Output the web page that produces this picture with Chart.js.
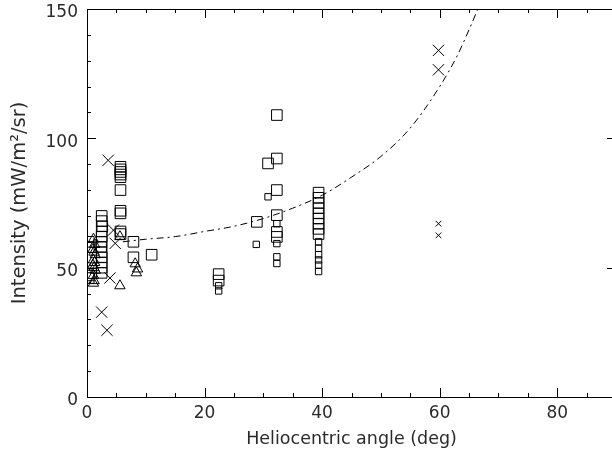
<!DOCTYPE html>
<html>
<head>
<meta charset="utf-8">
<script src="https://cdn.jsdelivr.net/npm/chart.js@4.4.1/dist/chart.umd.min.js"></script>
<style>
  html, body { margin: 0; padding: 0; background: #fff; overflow: hidden; }
</style>
</head>
<body>
<canvas id="helioChart" width="625" height="457"></canvas>
<script>
// tick labels
const angleTicks = [0, 20, 40, 60, 80];
const intensityTicks = [0, 50, 100, 150];

// [angle (deg), intensity]
const squaresLarge = [
  [0.3, 60], [0.3, 58], [0.3, 47], [0.3, 46],
  [2.5, 70], [2.5, 68], [2.6, 66], [2.5, 64], [2.5, 62], [2.5, 60], [2.4, 58],
  [2.5, 56], [2.5, 54], [2.5, 52], [2.5, 50], [2.5, 48],
  [5.7, 89], [5.7, 88], [5.7, 87], [5.7, 86], [5.7, 85], [5.7, 80],
  [5.7, 72], [5.7, 71], [5.7, 64], [5.7, 63],
  [7.9, 60], [7.9, 54], [11, 55],
  [22.4, 47.5], [22.4, 45],
  [28.9, 67.7], [30.8, 90.3],
  [32.3, 109], [32.3, 92.2], [32.3, 80], [32.3, 70.3], [32.3, 63.8], [32.3, 61.9],
  [39.4, 79], [39.4, 77], [39.4, 75], [39.4, 73], [39.4, 71], [39.4, 69],
  [39.4, 67], [39.4, 65], [39.4, 63]
];
const squaresSmall = [
  [22.4, 43], [22.4, 41],
  [28.8, 59], [30.8, 77.4],
  [32.3, 67], [32.3, 59.3], [32.3, 54.2], [32.3, 51.6],
  [39.4, 60], [39.4, 57.5], [39.4, 55], [39.4, 53], [39.4, 51], [39.4, 48.5]
];
const triangles = [
  [1.1, 61], [1.3, 59], [1.0, 57], [1.2, 56], [1.4, 55], [1.1, 53], [1.3, 52],
  [1.0, 51], [1.2, 50], [1.4, 49], [1.1, 47], [1.2, 45], [1.1, 44],
  [5.6, 62], [5.6, 43],
  [8.2, 51.5], [8.6, 49.5], [8.4, 48]
];
const crossesLarge = [
  [3.6, 91.5], [2.5, 32.8], [3.4, 25.8], [4.5, 64.5], [4.8, 59.4], [3.9, 46],
  [59.8, 134], [59.8, 126.5]
];
const crossesSmall = [[59.8, 67], [59.8, 62.5]];

// dash-dot model curve
const fitCurve = [
  [6.1, 60], [10, 61], [15, 62], [20, 64], [25, 66], [30, 69], [35, 73],
  [40, 78], [45, 85], [50, 93], [55, 104], [60, 120], [63, 132], [65, 142], [66.5, 150]
];

const pts = arr => arr.map(([x, y]) => ({ x, y }));

const markerStyle = (style, radius) => ({
  showLine: false,
  pointStyle: style,
  pointRadius: radius,
  pointHoverRadius: radius,
  pointBorderColor: '#000',
  pointBackgroundColor: 'rgba(0,0,0,0)',
  pointBorderWidth: 1
});

// IDL-like box with inward ticks
const boxTicks = {
  id: 'boxTicks',
  afterDraw(chart) {
    const { ctx, chartArea: a, scales: { x, y } } = chart;
    const seg = (x1, y1, x2, y2) => { ctx.beginPath(); ctx.moveTo(x1, y1); ctx.lineTo(x2, y2); ctx.stroke(); };
    ctx.save();
    ctx.strokeStyle = '#000';
    ctx.lineWidth = 1;
    ctx.strokeRect(a.left + 0.5, a.top + 0.5, a.right - a.left, a.bottom - a.top);
    for (let v = 0; v <= 90; v += 5) {
      const px = Math.round(x.getPixelForValue(v)) + 0.5;
      const len = v % 20 === 0 ? 9 : 4;
      seg(px, a.bottom, px, a.bottom - len);
      seg(px, a.top, px, a.top + len);
    }
    for (let v = 0; v <= 150; v += 10) {
      const py = Math.round(y.getPixelForValue(v)) + 0.5;
      const len = v % 50 === 0 ? 9 : 4;
      seg(a.left, py, a.left + len, py);
      seg(a.right, py, a.right - len, py);
    }
    ctx.restore();
  }
};

const fontFamily = "'DejaVu Sans', sans-serif";
const textColor = '#2a2a2a';

new Chart(document.getElementById('helioChart').getContext('2d'), {
  type: 'scatter',
  data: {
    datasets: [
      { label: 'squares', data: pts(squaresLarge), ...markerStyle('rect', 7.5) },
      { label: 'small squares', data: pts(squaresSmall), ...markerStyle('rect', 4.5) },
      { label: 'triangles', data: pts(triangles), ...markerStyle('triangle', 6) },
      { label: 'crosses', data: pts(crossesLarge), ...markerStyle('crossRot', 8) },
      { label: 'small crosses', data: pts(crossesSmall), ...markerStyle('crossRot', 4) },
      {
        label: 'fit',
        data: pts(fitCurve),
        showLine: true,
        pointRadius: 0,
        borderColor: '#000',
        borderWidth: 1,
        borderDash: [7, 4, 2, 4],
        tension: 0.4,
        cubicInterpolationMode: 'monotone'
      }
    ]
  },
  options: {
    responsive: false,
    animation: false,
    events: [],
    layout: { padding: { top: 9, right: 0, left: 0, bottom: 0 } },
    plugins: { legend: { display: false }, tooltip: { enabled: false } },
    scales: {
      x: {
        type: 'linear',
        min: 0,
        max: 90,
        grid: { display: false, drawTicks: false, tickLength: 0 },
        border: { display: false },
        afterFit(scale) { scale.height = 60; },
        afterBuildTicks(scale) { scale.ticks = angleTicks.map(v => ({ value: v })); },
        ticks: { color: textColor, padding: 6, maxRotation: 0, font: { family: fontFamily, size: 17 } },
        title: {
          display: true,
          text: 'Heliocentric angle (deg)',
          color: textColor,
          padding: { top: 2, bottom: 7 },
          font: { family: fontFamily, size: 17.5 }
        }
      },
      y: {
        type: 'linear',
        min: 0,
        max: 150,
        grid: { display: false, drawTicks: false, tickLength: 0 },
        border: { display: false },
        afterFit(scale) {
          scale.width = 87;
          scale.paddingTop = 0;
          scale.paddingBottom = 0;
        },
        afterBuildTicks(scale) { scale.ticks = intensityTicks.map(v => ({ value: v })); },
        ticks: { color: textColor, padding: 9, labelOffset: 4, font: { family: fontFamily, size: 17 } },
        title: {
          display: true,
          text: 'Intensity (mW/m\u00b2/sr)',
          color: textColor,
          padding: { top: 8, bottom: 0 },
          font: { family: fontFamily, size: 19.5 }
        }
      }
    }
  },
  plugins: [boxTicks]
});
</script>
</body>
</html>
